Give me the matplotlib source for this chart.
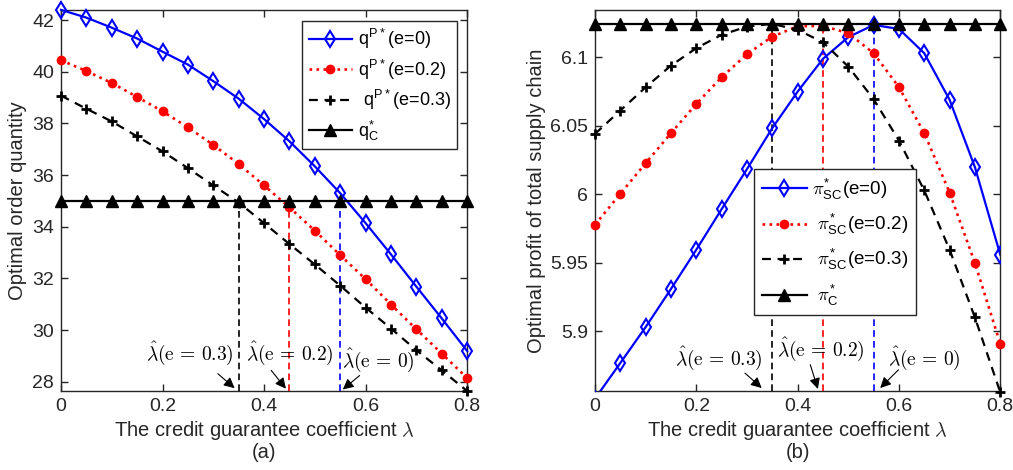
import matplotlib
matplotlib.use("Agg")
import matplotlib.pyplot as plt
import numpy as np

plt.rcParams['font.family'] = ['Liberation Sans', 'DejaVu Sans']
plt.rcParams['mathtext.fontset'] = 'cm'

# ---------------- data ----------------
lam = [0, 0.05, 0.1, 0.15, 0.2, 0.25, 0.3, 0.35, 0.4, 0.45, 0.5, 0.55, 0.6, 0.65, 0.7, 0.75, 0.8]

q_e0 = [42.40, 42.10, 41.71, 41.29, 40.78, 40.28, 39.64, 38.96, 38.17, 37.31, 36.34, 35.30,
        34.14, 32.93, 31.68, 30.45, 29.19]
q_e02 = [40.45, 40.03, 39.57, 39.03, 38.47, 37.85, 37.17, 36.43, 35.60, 34.75, 33.85, 32.90,
         31.97, 30.99, 30.03, 29.09, 28.14]
q_e03 = [39.08, 38.57, 38.08, 37.50, 36.92, 36.27, 35.60, 34.94, 34.14, 33.33, 32.54, 31.72,
         30.87, 30.06, 29.22, 28.44, 27.64]
q_C = 35.0

pi_e0 = [5.851, 5.877, 5.9032, 5.931, 5.9596, 5.9892, 6.0184, 6.0483, 6.0749, 6.0988, 6.1146,
         6.1235, 6.1206, 6.1029, 6.0689, 6.0198, 5.956]
pi_e02 = [5.9778, 6.0004, 6.0227, 6.0446, 6.066, 6.0854, 6.1022, 6.115, 6.1225, 6.1228, 6.1175,
          6.1029, 6.0781, 6.0446, 6.0013, 5.9499, 5.891]
pi_e03 = [6.0441, 6.0611, 6.0781, 6.0939, 6.1066, 6.1163, 6.1223, 6.1243, 6.1199, 6.1109, 6.0931,
          6.0694, 6.0392, 6.0028, 5.9596, 5.9102, 5.8556]
pi_C = 6.1243

lam_hat = [0.35, 0.45, 0.55]          # e = 0.3, 0.2, 0
hat_labels = [r'$\hat{\lambda}(\mathrm{e}\,=\,0.3)$', r'$\hat{\lambda}(\mathrm{e}\,=\,0.2)$',
              r'$\hat{\lambda}(\mathrm{e}\,=\,0)$']
hat_colors = ['black', 'red', 'blue']

# annotation placement (text centre, arrow tail, arrow head)
ann_a = [((0.253, 29.09), (0.309, 28.31), (0.342, 27.75)),
         ((0.450, 29.10), (0.414, 28.44), (0.443, 27.73)),
         ((0.624, 28.85), (0.588, 28.24), (0.555, 27.70))]
ann_b = [((0.245, 5.8806), (0.296, 5.8696), (0.329, 5.8587)),
         ((0.446, 5.8872), (0.425, 5.8757), (0.440, 5.8580)),
         ((0.650, 5.8808), (0.599, 5.8720), (0.563, 5.8587))]

xticks = [0, 0.2, 0.4, 0.6, 0.8]
yticks_a = [28, 30, 32, 34, 36, 38, 40, 42]
yticks_b = [5.9, 5.95, 6.0, 6.05, 6.1]
yticklabels_b = ['5.9', '5.95', '6', '6.05', '6.1']
ylim_a = (27.64, 42.40)
ylim_b = (5.8565, 6.1345)

# ---------------- figure ----------------
fig = plt.figure(figsize=(10.13, 4.70), dpi=100)
axA = fig.add_axes([0.0602, 0.168, 0.401, 0.811])
axB = fig.add_axes([0.5874, 0.168, 0.400, 0.811])

spine_c = '#262626'
lw = 1.6


def style(ax):
    for s in ax.spines.values():
        s.set_color(spine_c)
        s.set_linewidth(1.0)
    ax.tick_params(direction='in', top=True, right=True, colors=spine_c,
                   labelsize=14, length=5, width=1.0, pad=5)
    ax.set_xlim(0, 0.8)
    ax.set_xticks(xticks)
    ax.set_xticklabels(['0', '0.2', '0.4', '0.6', '0.8'])


def series(ax, y1, y2, y3, yc, clip_first=False):
    h1, = ax.plot(lam, y1, '-', color='blue', lw=lw, marker='d', ms=8, mfc='none',
                  mec='blue', mew=1.5, clip_on=clip_first, zorder=4)
    h2, = ax.plot(lam, y2, ':', color='red', lw=lw + 0.3, marker='o', ms=6, mfc='red',
                  mec='red', clip_on=False, zorder=4)
    h3, = ax.plot(lam, y3, '--', color='black', lw=lw, marker='+', ms=7, mew=2,
                  clip_on=False, zorder=4, dashes=(4, 3))
    h4, = ax.plot(lam, [yc] * len(lam), '-', color='black', lw=lw, marker='^', ms=8,
                  mfc='black', clip_on=False, zorder=5)
    return [h1, h2, h3, h4]


def hats(ax, yc, ylim, ann, fs):
    for xv, c in zip(lam_hat, hat_colors):
        ax.vlines(xv, ylim[0], yc, colors=c, linestyles=(0, (4, 2.5)), lw=1.2, zorder=3)
    for (tc, tail, head), lab in zip(ann, hat_labels):
        ax.text(tc[0], tc[1], lab, ha='center', va='center', fontsize=fs, color='black')
        ax.annotate('', xy=head, xytext=tail,
                    arrowprops=dict(arrowstyle='-|>', color='black', lw=0.8,
                                    mutation_scale=16, shrinkA=0, shrinkB=0))


# (a)
style(axA)
axA.set_ylim(*ylim_a)
axA.set_yticks(yticks_a)
hA = series(axA, q_e0, q_e02, q_e03, q_C)
hats(axA, q_C, ylim_a, ann_a, 14)
axA.set_ylabel('Optimal order quantity', fontsize=14.5, color=spine_c, labelpad=4)
axA.set_xlabel('The credit guarantee coefficient $\\lambda$\n(a)', fontsize=14.5,
               color=spine_c, labelpad=3, linespacing=1.05)
legA = axA.legend(hA, [r'q$^{\mathregular{P*}}$(e=0)', r'q$^{\mathregular{P*}}$(e=0.2)',
                       r' q$^{\mathregular{P*}}$(e=0.3)', r'q$_{\mathregular{C}}^{\mathregular{*}}$'],
                  loc='upper right', bbox_to_anchor=(0.975, 0.971), borderaxespad=0,
                  fontsize=13, frameon=True, fancybox=False, framealpha=1,
                  edgecolor=spine_c, handlelength=2.4, labelspacing=0.35,
                  handletextpad=0.3, borderpad=0.35)
legA.get_frame().set_linewidth(1.0)

# (b)
style(axB)
axB.set_ylim(*ylim_b)
axB.set_yticks(yticks_b)
axB.set_yticklabels(yticklabels_b)
hB = series(axB, pi_e0, pi_e02, pi_e03, pi_C, clip_first=True)
hats(axB, pi_C, ylim_b, ann_b, 14)
axB.set_ylabel('Optimal profit of total supply chain', fontsize=14.5, color=spine_c, labelpad=3)
axB.set_xlabel('The credit guarantee coefficient $\\lambda$\n(b)', fontsize=14.5,
               color=spine_c, labelpad=3, linespacing=1.05)
legB = axB.legend(hB, [r'$\pi_{\mathregular{SC}}^{\mathregular{*}}$(e=0)',
                       r' $\pi_{\mathregular{SC}}^{\mathregular{*}}$(e=0.2)',
                       r' $\pi_{\mathregular{SC}}^{\mathregular{*}}$(e=0.3)',
                       r' $\pi_{\mathregular{C}}^{\mathregular{*}}$'],
                  loc='upper left', bbox_to_anchor=(0.393, 0.582), borderaxespad=0,
                  fontsize=13.5, frameon=True, fancybox=False, framealpha=1,
                  edgecolor=spine_c, handlelength=2.4, labelspacing=0.55,
                  handletextpad=0.3, borderpad=0.4)
legB.get_frame().set_linewidth(1.0)

fig.savefig('out.png', dpi=100)
